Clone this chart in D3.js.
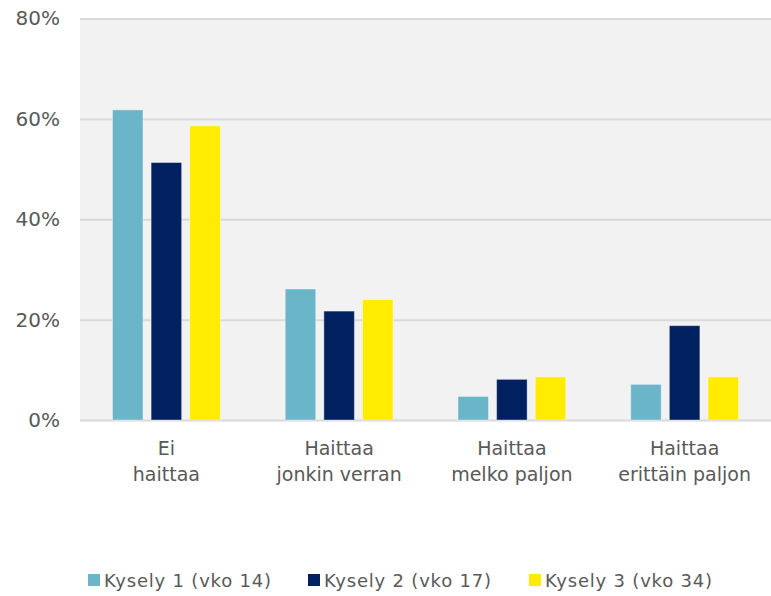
<!DOCTYPE html>
<meta charset="utf-8">
<title>Haittaa</title>
<style>
html, body {
  margin: 0;
  padding: 0;
  background: #fff;
}
svg {
  display: block;
  font-family: "DejaVu Sans", sans-serif;
}
.tick text, .cat text, .legend text {
  fill: #595959;
}
</style>
<body>
<svg width="771" height="596"></svg>
<script src="https://d3js.org/d3.v7.min.js"></script>
<script>

var categories = [["Ei", "haittaa"], ["Haittaa", "jonkin verran"], ["Haittaa", "melko paljon"], ["Haittaa", "erittäin paljon"]];
var series = ["Kysely 1 (vko 14)", "Kysely 2 (vko 17)", "Kysely 3 (vko 34)"];
var colors = ["#6BB5C9", "#002060", "#FFEC00"];
var kysely1 = [0.618, 0.261, 0.047, 0.071];
var kysely2 = [0.513, 0.217, 0.081, 0.188];
var kysely3 = [0.586, 0.240, 0.086, 0.086];
var yTicks = [0, 0.2, 0.4, 0.6, 0.8];

var values = [kysely1, kysely2, kysely3];

var svg = d3.select("svg"),
    plotLeft = 80, plotRight = 771, plotTop = 18.5, plotBottom = 420;

var x = d3.scaleBand()
    .domain(d3.range(categories.length))
    .range([plotLeft, plotRight]);

var xSub = d3.scaleBand()
    .domain(d3.range(series.length))
    .range([0, x.bandwidth()])
    .paddingInner(0.21)
    .paddingOuter(0.84);

var y = d3.scaleLinear()
    .domain([0, 0.8])
    .range([plotBottom, plotTop]);

// plot background
svg.append("rect")
    .attr("x", plotLeft)
    .attr("y", plotTop)
    .attr("width", plotRight - plotLeft)
    .attr("height", plotBottom - plotTop)
    .attr("fill", "#F2F2F2");

// grid + labels
var yAxis = svg.append("g")
    .attr("transform", "translate(" + plotLeft + ",0)")
    .call(d3.axisLeft(y)
      .tickValues(yTicks)
      .tickSize(-(plotRight - plotLeft))
      .tickPadding(20)
      .tickFormat(d3.format(".0%")));

yAxis.select(".domain").remove();
yAxis.selectAll(".tick line")
    .attr("stroke", "#D9D9D9")
    .attr("stroke-width", 2);
yAxis.selectAll(".tick text")
    .attr("font-size", 20)
    .attr("font-family", "DejaVu Sans, sans-serif");

// bars
var group = svg.append("g")
  .selectAll("g")
  .data(categories)
  .enter().append("g")
    .attr("transform", function(d, i) { return "translate(" + x(i) + ",0)"; });

group.selectAll("rect")
  .data(function(d, i) { return values.map(function(v, s) { return {s: s, v: v[i]}; }); })
  .enter().append("rect")
    .attr("x", function(d) { return xSub(d.s); })
    .attr("y", function(d) { return y(d.v); })
    .attr("width", xSub.bandwidth())
    .attr("height", function(d) { return y(0) - y(d.v); })
    .attr("fill", function(d) { return colors[d.s]; })
    .attr("stroke", "#ffffff")
    .attr("stroke-opacity", 0.4)
    .attr("stroke-width", 1);

// category labels
var cat = svg.append("g")
    .attr("class", "cat")
  .selectAll("text")
  .data(categories)
  .enter().append("text")
    .attr("x", function(d, i) { return x(i) + x.bandwidth() / 2; })
    .attr("y", 455)
    .attr("text-anchor", "middle")
    .attr("font-size", 19);

cat.selectAll("tspan")
  .data(function(d) { return d; })
  .enter().append("tspan")
    .attr("x", function() { return d3.select(this.parentNode).attr("x"); })
    .attr("dy", function(d, i) { return i ? 26 : 0; })
    .text(function(d) { return d; });

// legend
var legendX = [88, 308, 529];
var legend = svg.append("g")
    .attr("class", "legend")
  .selectAll("g")
  .data(series)
  .enter().append("g")
    .attr("transform", function(d, i) { return "translate(" + legendX[i] + ",574)"; });

legend.append("rect")
    .attr("width", 12)
    .attr("height", 12)
    .attr("fill", function(d, i) { return colors[i]; });

legend.append("text")
    .attr("x", 16)
    .attr("y", 12.5)
    .attr("font-size", 18)
    .attr("letter-spacing", 0.8)
    .text(function(d) { return d; });

</script>
</body>
